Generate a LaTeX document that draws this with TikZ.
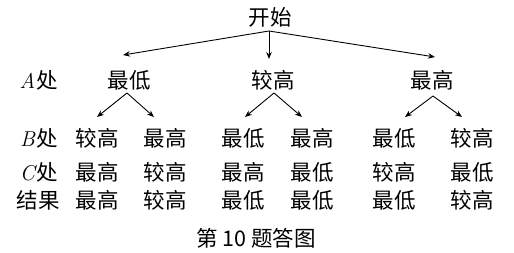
\documentclass[tikz,border=0pt]{standalone}
\usepackage{fontspec}
\newfontfamily\cjk{Noto Sans CJK SC}
\usetikzlibrary{arrows.meta}
\begin{document}
\begin{tikzpicture}[x=1pt,y=-1pt,
  lbl/.style={font=\cjk\fontsize{21.5}{24}\selectfont, inner sep=0pt, anchor=center},
  arr/.style={-{Stealth[length=7pt,width=5.5pt]}, line width=0.9pt}]
\useasboundingbox (0,0) rectangle (514,252);
% root
\node[lbl] (start) at (270,17) {开始};
\coordinate (s) at (269,31);
% row A
\node[lbl] (la) at (39,80) {$\mathit{A}$\kern1.5pt处};
\node[lbl] (a1) at (129,80) {最低};
\node[lbl] (a2) at (273,80) {较高};
\node[lbl] (a3) at (432,80) {最高};
\coordinate (t1) at (123,55);
\coordinate (t2) at (269,59);
\coordinate (t3) at (435,57);
\draw[arr] (s) -- (t1);
\draw[arr] (s) -- (t2);
\draw[arr] (s) -- (t3);
% small branches
\coordinate (p1) at (127,93);
\coordinate (p2) at (274,93);
\coordinate (p3) at (433,96);
\coordinate (q11) at (97,117);
\coordinate (q12) at (154,117);
\coordinate (q21) at (245,117);
\coordinate (q22) at (302,117);
\coordinate (q31) at (405,117);
\coordinate (q32) at (462,117);
\draw[arr] (p1) -- (q11);
\draw[arr] (p1) -- (q12);
\draw[arr] (p2) -- (q21);
\draw[arr] (p2) -- (q22);
\draw[arr] (p3) -- (q31);
\draw[arr] (p3) -- (q32);
% row B
\node[lbl] (lb) at (39,138) {$\mathit{B}$\kern1.5pt处};
\node[lbl] (b1) at (97,138) {较高};
\node[lbl] (b2) at (165,138) {最高};
\node[lbl] (b3) at (243,138) {最低};
\node[lbl] (b4) at (312,138) {最高};
\node[lbl] (b5) at (394,138) {最低};
\node[lbl] (b6) at (472,138) {较高};
% row C
\node[lbl] (lc) at (39,172) {$\mathit{C}$\kern1.5pt处};
\node[lbl] (c1) at (97,172) {最高};
\node[lbl] (c2) at (165,172) {较高};
\node[lbl] (c3) at (243,172) {最高};
\node[lbl] (c4) at (312,172) {最低};
\node[lbl] (c5) at (394,172) {较高};
\node[lbl] (c6) at (472,172) {最低};
% result row
\node[lbl] (lr) at (38,200) {结果};
\node[lbl] (r1) at (97,200) {最高};
\node[lbl] (r2) at (165,200) {较高};
\node[lbl] (r3) at (243,200) {最低};
\node[lbl] (r4) at (312,200) {最低};
\node[lbl] (r5) at (394,200) {最低};
\node[lbl] (r6) at (472,200) {较高};
% caption
\node[lbl] (cap) at (256,238) {第 10 题答图};
\end{tikzpicture}
\end{document}
